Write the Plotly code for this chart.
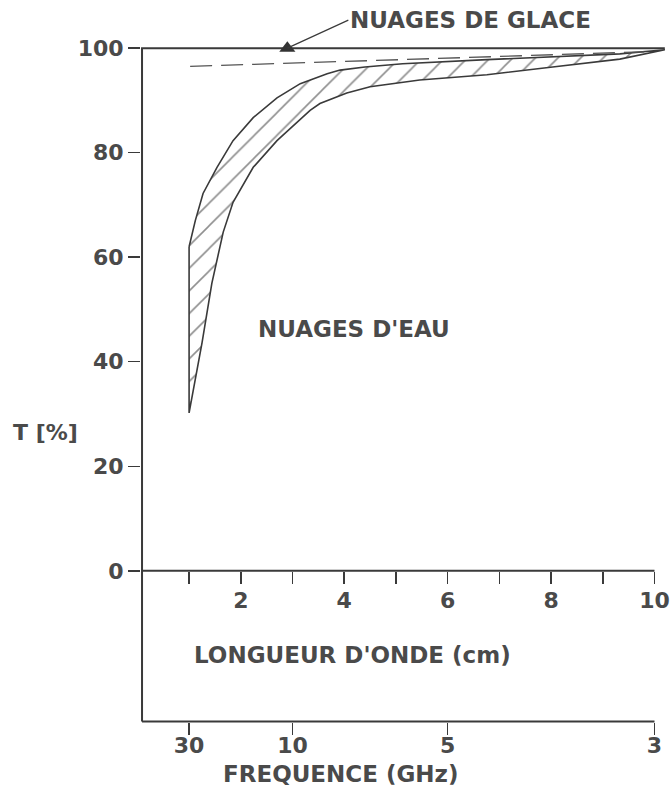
import plotly.graph_objects as go

# ---- data ----
# upper (left) edge of the water-cloud band : wavelength (cm), transmission T (%)
wl_up = [1.00, 1.12, 1.27, 1.54, 1.85, 2.24, 2.70, 3.15, 3.67, 3.92, 4.40, 5.13, 6.76, 8.03, 9.33, 10.2]
t_up = [62.0, 67.0, 72.2, 77.2, 82.3, 86.7, 90.5, 93.2, 95.1, 95.8, 96.4, 97.0, 97.8, 98.3, 98.9, 99.7]
# lower (right) edge of the band
wl_low = [1.00, 1.25, 1.44, 1.66, 1.85, 2.24, 2.70, 3.34, 3.53, 4.05, 4.50, 5.46, 6.76, 8.03, 9.33, 10.2]
t_low = [30.2, 43.6, 55.0, 64.8, 70.5, 77.2, 82.3, 88.1, 89.4, 91.4, 92.6, 93.9, 94.9, 96.4, 97.9, 99.7]
# ice clouds (dashed line)
wl_ice = [1.02, 3.78, 6.76, 8.40, 9.80]
t_ice = [96.5, 97.4, 98.4, 98.9, 99.3]
# marked point
mark_wl = [2.9]
mark_t = [100]

wl_ticks = [1, 2, 3, 4, 5, 6, 7, 8, 9, 10]
wl_labels = ["", "2", "", "4", "", "6", "", "8", "", "10"]
freq_ticks = [30, 10, 5, 3]  # GHz
t_ticks = [0, 20, 40, 60, 80, 100]

INK = "#3a3a3a"
TXT = "#4a4a4a"
FONT = "DejaVu Sans"

X0, X1 = 0.09, 10.0      # axis line extent (cm)
YB = -28.84               # level of the frequency axis line

band_x = wl_up + wl_low[::-1] + [wl_up[0]]
band_y = t_up + t_low[::-1] + [t_up[0]]

fig = go.Figure()

fig.add_trace(go.Scatter(
    x=band_x, y=band_y, mode="lines", fill="toself", fillcolor="white",
    fillpattern=dict(shape="/", size=16, solidity=0.1, fgcolor="#1e1e1e", bgcolor="white"),
    line=dict(color=INK, width=1.6), hoverinfo="skip"))

fig.add_trace(go.Scatter(
    x=wl_ice, y=t_ice, mode="lines",
    line=dict(color="#555555", width=1.3, dash="22px,9px"), hoverinfo="skip"))

# frame: top line, left axis, bottom (frequency) axis line
fig.add_trace(go.Scatter(
    x=[wl_up[-1], X0, X0], y=[100, 100, YB], mode="lines",
    line=dict(color=INK, width=2), hoverinfo="skip"))
# wavelength axis line at T = 0
fig.add_trace(go.Scatter(
    x=[X0, X1], y=[0, 0], mode="lines",
    line=dict(color=INK, width=2), hoverinfo="skip"))
# frequency axis line (on xaxis2)
fig.add_trace(go.Scatter(
    x=[X0, X1], y=[YB, YB], mode="lines", xaxis="x2",
    line=dict(color=INK, width=2), hoverinfo="skip"))

fig.add_trace(go.Scatter(
    x=mark_wl, y=mark_t, mode="markers", cliponaxis=False,
    marker=dict(symbol="triangle-up", size=14, color="#333333"), hoverinfo="skip"))

ylo, yhi = -29.5, 100.6
tick_font = dict(family=FONT, size=22, color=TXT, weight="bold")
lab_font = dict(family=FONT, size=23, color=TXT, weight="bold")

fig.update_layout(
    width=672, height=805,
    margin=dict(l=141, r=2, t=45, b=80, pad=0),
    paper_bgcolor="white", plot_bgcolor="white",
    showlegend=False,
    xaxis=dict(range=[0.07, 10.3], anchor="free", position=(0 - ylo) / (yhi - ylo),
               automargin=False,
               showline=False, showgrid=False, zeroline=False,
               tickmode="array", tickvals=wl_ticks, ticktext=wl_labels,
               ticks="outside", ticklen=12, tickwidth=1.5, tickcolor=INK,
               tickfont=tick_font, ticklabelstandoff=-2),
    xaxis2=dict(range=[0.07, 10.3], overlaying="x", anchor="free",
                position=(YB - ylo) / (yhi - ylo), automargin=False,
                showline=False, showgrid=False, zeroline=False,
                tickmode="array", tickvals=[30 / f for f in freq_ticks],
                ticktext=[str(f) for f in freq_ticks],
                ticks="outside", ticklen=12, tickwidth=1.5, tickcolor=INK,
                tickfont=tick_font, ticklabelstandoff=-8),
    yaxis=dict(range=[ylo, yhi], automargin=False,
               showline=False, showgrid=False, zeroline=False,
               tickmode="array", tickvals=t_ticks,
               ticks="outside", ticklen=12, tickwidth=1.5, tickcolor=INK,
               tickfont=tick_font, ticklabelstandoff=0),
)

fig.add_annotation(x=mark_wl[0], y=mark_t[0], xref="x", yref="y",
                   text="NUAGES DE GLACE", showarrow=True, arrowhead=0,
                   arrowwidth=1.2, arrowcolor=INK, ax=61, ay=-28,
                   xanchor="left", yanchor="middle", font=lab_font)
fig.add_annotation(x=4.19, y=46.2, xref="x", yref="y", text="NUAGES D'EAU",
                   showarrow=False, font=lab_font)
fig.add_annotation(x=0.40, y=-16.1, xref="paper", yref="y", xanchor="center",
                   text="LONGUEUR D'ONDE (cm)", showarrow=False, font=lab_font)
fig.add_annotation(x=0.377, y=-0.094, xref="paper", yref="paper", xanchor="center",
                   text="FREQUENCE (GHz)", showarrow=False, font=lab_font)
fig.add_annotation(x=-0.18, y=26.4, xref="paper", yref="y", xanchor="center",
                   text="T [%]", showarrow=False, font=tick_font)

# remove the browser's default 8 px page margin so the figure fills the window
fig.write_html("out.html",
               config={"displayModeBar": False, "staticPlot": True},
               post_script="document.body.style.margin='0px';document.body.style.overflow='hidden';")
